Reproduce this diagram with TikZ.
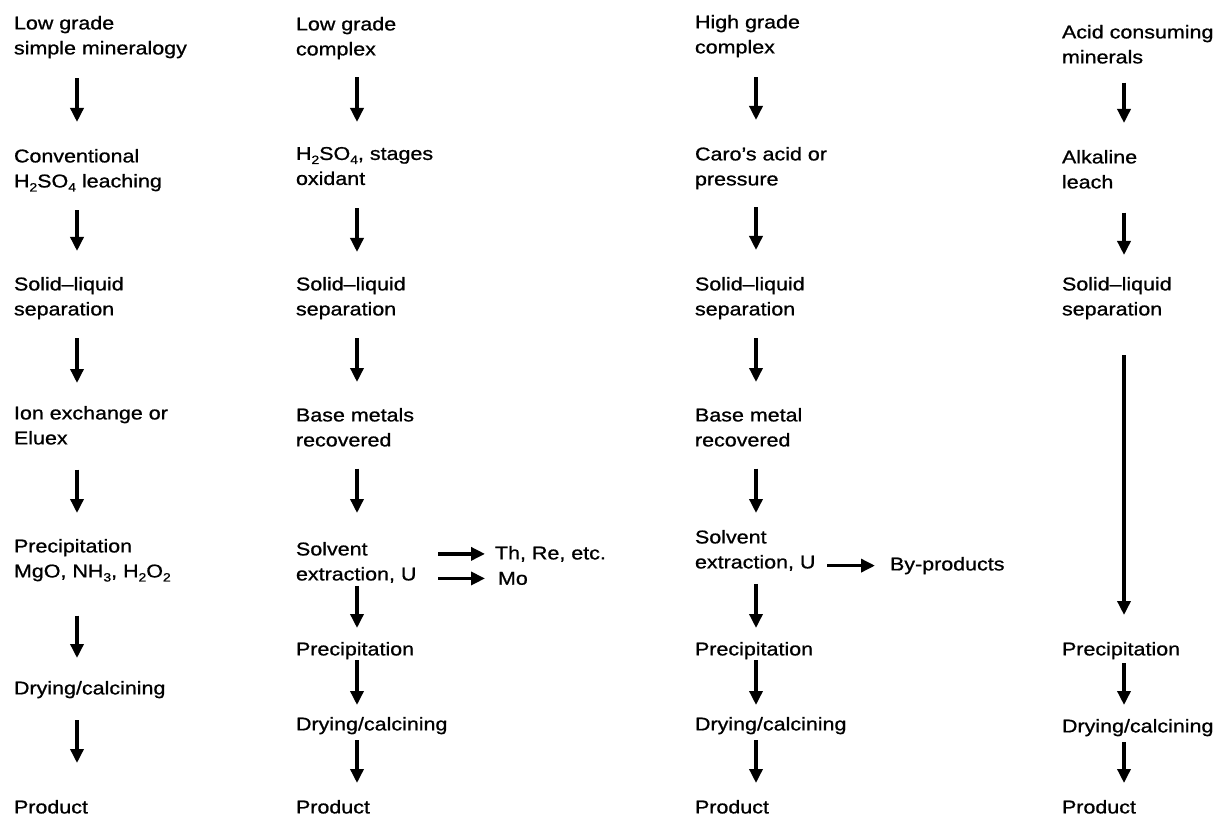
\documentclass[tikz,border=0pt]{standalone}
\usepackage{fontspec}
\setmainfont{Liberation Sans}[FakeStretch=1.16,FakeBold=0.9]
\usetikzlibrary{arrows.meta}
\newcommand\sbs[1]{\raisebox{-0.22em}{\fontsize{12}{12}\selectfont #1}}
\newcommand\varr[5]{\draw[arr,shorten <=#4,shorten >=#5] (#1.south -| #3) -- (#2.north -| #3);}
\begin{document}
\begin{tikzpicture}[x=1pt,y=-1pt,
  lbl/.style={anchor=north west,inner sep=0pt,outer sep=0pt,align=left,
    font=\fontsize{18.5}{25}\selectfont},
  arr/.style={line width=3.4pt,-{Triangle[length=14pt,width=13pt]}}]
\useasboundingbox (0,0) rectangle (1222,818);
% arrow columns
\coordinate (c1) at (77,0);
\coordinate (c2) at (357,0);
\coordinate (c3) at (756,0);
\coordinate (c4) at (1124,0);
% column 1
\node[lbl] (n11) at (14,16) {Low grade\\simple mineralogy};
\node[lbl] (n12) at (14,149) {Conventional\\H\sbs{2}SO\sbs{4} leaching};
\node[lbl] (n13) at (14,277) {Solid--liquid\\separation};
\node[lbl] (n14) at (14,406) {Ion exchange or\\Eluex};
\node[lbl] (n15) at (14,539) {Precipitation\\MgO, NH\sbs{3}, H\sbs{2}O\sbs{2}};
\node[lbl] (n16) at (14,681) {Drying/calcining};
\node[lbl] (n17) at (14,800) {Product};
\varr{n11}{n12}{c1}{20pt}{27pt}
\varr{n12}{n13}{c1}{19pt}{26pt}
\varr{n13}{n14}{c1}{19pt}{23pt}
\varr{n14}{n15}{c1}{25pt}{26pt}
\varr{n15}{n16}{c1}{34pt}{23pt}
\varr{n16}{n17}{c1}{22pt}{37pt}
% column 2
\node[lbl] (n21) at (296,17) {Low grade\\complex};
\node[lbl] (n22) at (296,147) {H\sbs{2}SO\sbs{4}, stages\\oxidant};
\node[lbl] (n23) at (296,277) {Solid--liquid\\separation};
\node[lbl] (n24) at (296,408) {Base metals\\recovered};
\node[lbl] (n25) at (296,542) {Solvent\\extraction, U};
\node[lbl] (n26) at (296,642) {Precipitation};
\node[lbl] (n27) at (296,717) {Drying/calcining};
\node[lbl] (n28) at (296,800) {Product};
\node[lbl] (th) at (495,546) {Th, Re, etc.};
\node[lbl] (mo) at (498,572) {Mo};
\varr{n21}{n22}{c2}{18pt}{25pt}
\varr{n22}{n23}{c2}{23pt}{25pt}
\varr{n23}{n24}{c2}{19pt}{26pt}
\varr{n24}{n25}{c2}{22pt}{29pt}
\varr{n25}{n26}{c2}{3pt}{14pt}
\varr{n26}{n27}{c2}{1pt}{12pt}
\varr{n27}{n28}{c2}{6pt}{17pt}
\draw[arr,shorten <=22pt,shorten >=10pt] (n25.east |- th.west) -- (th.west);
\draw[arr,shorten <=22pt,shorten >=13pt] (n25.east |- mo.west) -- (mo.west);
% column 3
\node[lbl] (n31) at (695,15) {High grade\\complex};
\node[lbl] (n32) at (695,147) {Caro's acid or\\pressure};
\node[lbl] (n33) at (695,277) {Solid--liquid\\separation};
\node[lbl] (n34) at (695,408) {Base metal\\recovered};
\node[lbl] (n35) at (695,530) {Solvent\\extraction, U};
\node[lbl] (n36) at (695,642) {Precipitation};
\node[lbl] (n37) at (695,717) {Drying/calcining};
\node[lbl] (n38) at (695,800) {Product};
\node[lbl] (by) at (890,557) {By-products};
\varr{n31}{n32}{c3}{20pt}{27pt}
\varr{n32}{n33}{c3}{18pt}{27pt}
\varr{n33}{n34}{c3}{19pt}{26pt}
\varr{n34}{n35}{c3}{22pt}{17pt}
\varr{n35}{n36}{c3}{13pt}{14pt}
\varr{n36}{n37}{c3}{1pt}{12pt}
\varr{n37}{n38}{c3}{6pt}{17pt}
\draw[arr,shorten <=12pt,shorten >=15pt] (n35.east |- by.west) -- (by.west);
% column 4
\node[lbl] (n41) at (1062,25) {Acid consuming\\minerals};
\node[lbl] (n42) at (1062,150) {Alkaline\\leach};
\node[lbl] (n43) at (1062,277) {Solid--liquid\\separation};
\node[lbl] (n44) at (1062,642) {Precipitation};
\node[lbl] (n45) at (1062,719) {Drying/calcining};
\node[lbl] (n46) at (1062,800) {Product};
\varr{n41}{n42}{c4}{19pt}{27pt}
\varr{n42}{n43}{c4}{24pt}{22pt}
\varr{n43}{n44}{c4}{36pt}{27pt}
\varr{n44}{n45}{c4}{4pt}{14pt}
\varr{n45}{n46}{c4}{6pt}{17pt}
\end{tikzpicture}
\end{document}
